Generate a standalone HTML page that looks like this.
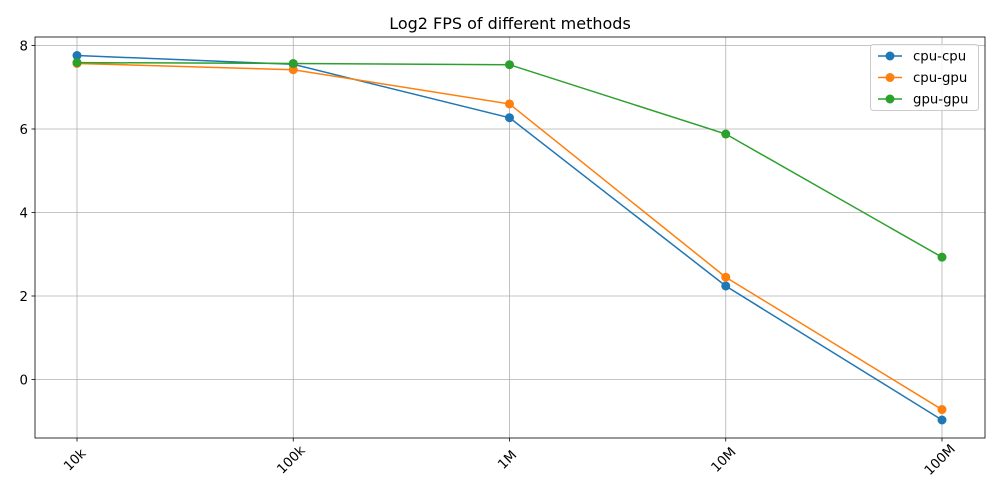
<!DOCTYPE html>
<html><head><meta charset="utf-8"><style>
body{margin:0;background:#fff;}
svg{display:block;font-family:"DejaVu Sans","Liberation Sans",sans-serif;}
</style></head><body>
<svg id="chart" width="1000" height="500">
<rect width="1000" height="500" fill="#fff"/>
<text x="510" y="29" text-anchor="middle" font-size="16" fill="#000">Log2 FPS of different methods</text>
<g id="grid"></g>
<g id="series"></g>
<rect x="35" y="37" width="950" height="401" fill="none" stroke="#000" stroke-width="0.8"/>
<g id="axes"></g>
<g id="legend"></g>
</svg>
<script>
const categories = ["10k","100k","1M","10M","100M"];
const cpuCpu = [7.76, 7.55, 6.27, 2.24, -0.97];
const cpuGpu = [7.57, 7.42, 6.60, 2.45, -0.72];
const gpuGpu = [7.59, 7.57, 7.54, 5.88, 2.93];
const yTicks = [0, 2, 4, 6, 8];
const seriesNames = ["cpu-cpu","cpu-gpu","gpu-gpu"];
const seriesColors = ["#1f77b4","#ff7f0e","#2ca02c"];

const NS = "http://www.w3.org/2000/svg";
const x = i => 77 + i * 216.25;
const y = v => 379.5 - v * 41.75;
function mk(tag, attrs, parent){const e=document.createElementNS(NS,tag);for(const k in attrs)e.setAttribute(k,attrs[k]);parent.appendChild(e);return e;}
const grid=document.getElementById('grid'), axes=document.getElementById('axes'), ser=document.getElementById('series'), leg=document.getElementById('legend');

categories.forEach((c,i)=>{
  const g=mk('line',{x1:x(i),x2:x(i),y1:37,y2:438,stroke:'#b0b0b0','stroke-width':0.8},grid);
  
  
  const t=mk('line',{x1:x(i),x2:x(i),y1:438,y2:441.5,stroke:'#000','stroke-width':0.8},axes);
  
  
  const lx=x(i)-2, ly=460;
  const tx=mk('text',{x:lx,y:ly,'text-anchor':'middle','font-size':13.3,transform:`rotate(-45 ${lx} ${ly})`,'dominant-baseline':'middle'},axes);
  tx.textContent=c;
  
  
});
yTicks.forEach(v=>{
  const g=mk('line',{x1:35,x2:985,y1:y(v),y2:y(v),stroke:'#b0b0b0','stroke-width':0.8},grid);
  
  
  const t=mk('line',{x1:31.5,x2:35,y1:y(v),y2:y(v),stroke:'#000','stroke-width':0.8},axes);
  
  
  const tx=mk('text',{x:28,y:y(v)+5,'text-anchor':'end','font-size':13.3},axes);
  tx.textContent=v;
  
  
});
[cpuCpu,cpuGpu,gpuGpu].forEach((data,s)=>{
  const pl=mk('polyline',{points:data.map((v,i)=>x(i)+','+y(v)).join(' '),fill:'none',stroke:seriesColors[s],'stroke-width':1.5},ser);
  
  
  data.forEach((v,i)=>{
    const c=mk('circle',{cx:x(i),cy:y(v),r:4.5,fill:seriesColors[s]},ser);
    
    
  });
});
const box=mk('rect',{x:870.5,y:44.5,width:108,height:66,rx:3,fill:'#fff','fill-opacity':0.8,stroke:'#ccc'},leg);


seriesNames.forEach((n,s)=>{
  const ly=56+s*21.5;
  const l=mk('line',{x1:878,x2:902,y1:ly,y2:ly,stroke:seriesColors[s],'stroke-width':1.5},leg);
  
  
  const c=mk('circle',{cx:890,cy:ly,r:4.5,fill:seriesColors[s]},leg);
  
  
  const t=mk('text',{x:913,y:ly+4.5,'font-size':13.3},leg);
  t.textContent=n;
  
  
});
</script>
</body></html>
